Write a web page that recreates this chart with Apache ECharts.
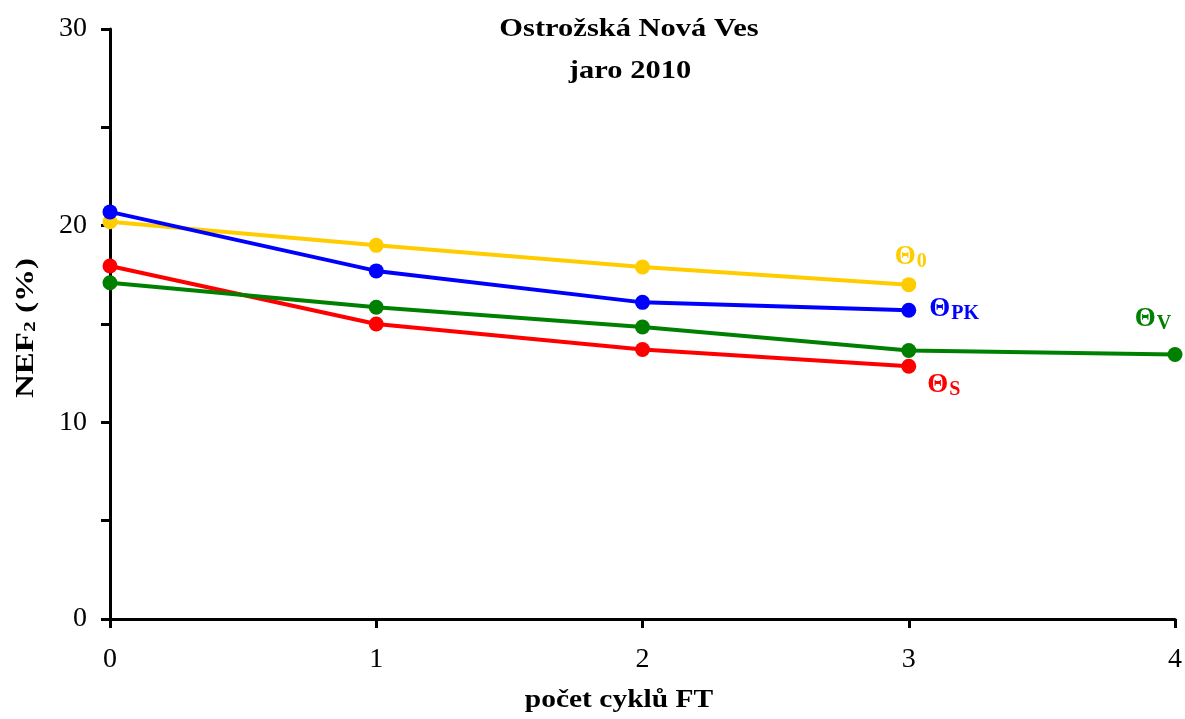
<!DOCTYPE html>
<html>
<head>
<meta charset="utf-8">
<script src="https://cdn.jsdelivr.net/npm/echarts@6/dist/echarts.min.js"></script>
<style>
  html, body { margin: 0; padding: 0; background: #fff; }
  #chart { width: 1185px; height: 719px; }
</style>
</head>
<body>
<div id="chart"></div>
<script>
// Number of freeze-thaw cycles
const cycles = [0, 1, 2, 3, 4];

// NEF2 (%) per moisture state
const theta0  = [20.2, 19.0, 17.9, 17.0];
const thetaPK = [20.7, 17.7, 16.1, 15.7];
const thetaS  = [17.95, 15.0, 13.7, 12.85];
const thetaV  = [17.1, 15.85, 14.85, 13.65, 13.45];

const yTicks = [0, 10, 20, 30];

const titleLines = ['Ostrožská Nová Ves', 'jaro 2010'];
const xName = 'počet cyklů FT';

const FONT = '"Liberation Serif", "Times New Roman", serif';

function pairs(values) {
  return values.map((v, i) => [cycles[i], v]);
}

function endLabel(values, main, sub, color, position, offset) {
  const data = pairs(values);
  const last = data.length - 1;
  data[last] = {
    value: data[last],
    label: {
      show: true,
      position: position,
      offset: offset,
      formatter: '{m|' + main + '}{s|' + sub + '}',
      rich: {
        m: { fontFamily: FONT, fontWeight: 'bold', fontSize: 27, color: color },
        s: { fontFamily: FONT, fontWeight: 'bold', fontSize: 20, color: color, padding: [10, 0, 0, 1] }
      }
    }
  };
  return data;
}

function lineSeries(name, data, color) {
  return {
    name: name,
    type: 'line',
    data: data,
    symbol: 'circle',
    symbolSize: 15,
    lineStyle: { color: color, width: 4 },
    itemStyle: { color: color },
    z: 3
  };
}

// Wide bold serif text (title and axis names)
function wideText(text, x, y, size, stretch, rotation, rich) {
  return {
    type: 'text',
    x: x,
    y: y,
    rotation: rotation || 0,
    scaleX: stretch,
    silent: true,
    style: {
      text: text,
      font: 'bold ' + size + 'px ' + FONT,
      fill: '#000',
      align: 'center',
      verticalAlign: 'middle',
      rich: rich
    }
  };
}

const chart = echarts.init(document.getElementById('chart'));
chart.setOption({
  animation: false,
  backgroundColor: '#fff',
  graphic: [
    wideText(titleLines[0], 629, 30, 25, 1.22),
    wideText(titleLines[1], 630, 72, 25, 1.22),
    wideText(xName, 619, 701, 25, 1.18),
    wideText('{a|NEF}{b|2}{a| (%)}', 26, 328, 26, 1.27, Math.PI / 2, {
      a: { font: 'bold 26px ' + FONT, fill: '#000' },
      b: { font: 'bold 17px ' + FONT, fill: '#000', padding: [9, 0, 0, 0] }
    })
  ],
  grid: { left: 110, right: 10, top: 29, bottom: 100, containLabel: false, outerBoundsMode: 'none' },
  xAxis: {
    type: 'value',
    min: 0,
    max: 4,
    interval: 1,
    axisLine: { onZero: false, lineStyle: { color: '#000', width: 3 } },
    axisTick: { show: true, inside: false, length: 9, lineStyle: { color: '#000', width: 3 } },
    axisLabel: { fontFamily: FONT, fontSize: 28, color: '#000', margin: 27 },
    splitLine: { show: false }
  },
  yAxis: {
    type: 'value',
    min: 0,
    max: 30,
    interval: 5,
    axisLine: { show: true, lineStyle: { color: '#000', width: 3 } },
    axisTick: { show: true, inside: false, length: 9, lineStyle: { color: '#000', width: 3 } },
    axisLabel: {
      fontFamily: FONT, fontSize: 28, color: '#000', margin: 23,
      formatter: v => (yTicks.indexOf(v) >= 0 ? String(v) : '')
    },
    splitLine: { show: false }
  },
  series: [
    lineSeries('Θ0', endLabel(theta0, 'Θ', '0', '#FFCC00', 'top', [2, 0]), '#FFCC00'),
    lineSeries('ΘPK', endLabel(thetaPK, 'Θ', 'PK', '#0000FF', 'right', [8, -1]), '#0000FF'),
    lineSeries('ΘS', endLabel(thetaS, 'Θ', 'S', '#FF0000', 'bottom', [35, -9]), '#FF0000'),
    lineSeries('ΘV', endLabel(thetaV, 'Θ', 'V', '#008000', 'top', [-22, -8]), '#008000')
  ]
});
</script>
</body>
</html>
